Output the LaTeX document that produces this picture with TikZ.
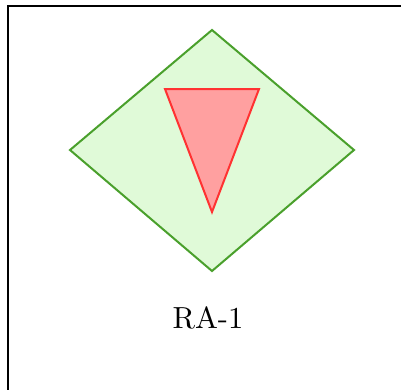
\documentclass[tikz,border=0pt]{standalone}
\begin{document}
\begin{tikzpicture}[x=1pt,y=-1pt,
  frame/.style={draw=black,line width=2pt},
  dia/.style={draw={rgb,255:red,74;green,160;blue,44},fill={rgb,255:red,224;green,250;blue,216},line width=2pt,line join=miter},
  tri/.style={draw={rgb,255:red,255;green,50;blue,50},fill={rgb,255:red,255;green,160;blue,160},line width=2pt,line join=miter},
  lbl/.style={font=\normalsize,scale=3.05,anchor=base,inner sep=0pt}]
\useasboundingbox (0,0) rectangle (401,389);
\coordinate (bl) at (8,400);
\coordinate (tl) at (8,6);
\coordinate (tr) at (410,6);
\draw[frame] (bl) -- (tl) -- (tr);
\coordinate (dt) at (212,30);
\coordinate (dl) at (70,150);
\coordinate (db) at (212,271);
\coordinate (dr) at (354,150);
\draw[dia] (dt) -- (dr) -- (db) -- (dl) -- cycle;
\coordinate (t1) at (165,89);
\coordinate (t2) at (259,89);
\coordinate (t3) at (212,212);
\draw[tri] (t1) -- (t2) -- (t3) -- cycle;
\node[lbl] (ra) at (208,328) {RA-1};
\end{tikzpicture}
\end{document}
